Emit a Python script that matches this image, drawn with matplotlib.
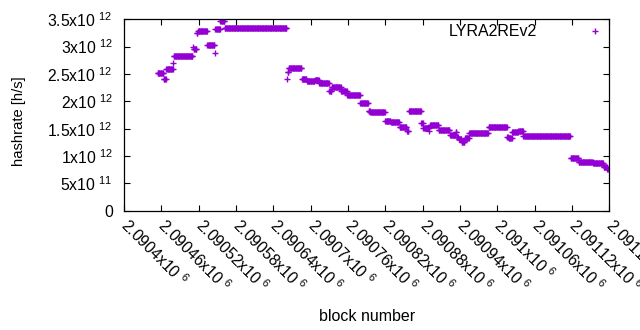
import numpy as np
import matplotlib
matplotlib.use("Agg")
import matplotlib.pyplot as plt
from matplotlib.ticker import FuncFormatter

plt.rcParams['font.family'] = ['Liberation Sans', 'DejaVu Sans']
plt.rcParams['mathtext.fontset'] = 'custom'
plt.rcParams['mathtext.rm'] = 'Liberation Sans'

# hashrate runs: first block offset, end offset (exclusive), rate in 1e12 h/s
block_base = 2090400
seg_start = [54, 64, 68, 79, 80, 111, 112, 117, 119, 134, 146, 147, 155, 162,
             262, 263, 265, 286, 294, 307, 314, 330, 334, 349, 359, 380, 393,
             396, 420, 429, 443, 455, 458, 478, 481, 491, 492, 506, 524, 533,
             535, 538, 543, 548, 555, 586, 616, 618, 624, 634, 642, 718, 731,
             754, 771, 777]
seg_end = [64, 68, 79, 80, 111, 112, 117, 119, 134, 146, 147, 155, 162, 262,
           263, 265, 286, 294, 307, 314, 330, 334, 349, 359, 380, 393, 396,
           420, 429, 443, 455, 458, 478, 481, 491, 492, 506, 524, 533, 535,
           538, 543, 548, 555, 586, 616, 618, 624, 634, 642, 718, 731, 754,
           771, 777, 779]
seg_rate = [2.52, 2.40, 2.60, 2.70, 2.83, 3.00, 2.95, 3.25, 3.29, 3.03, 2.88,
            3.33, 3.46, 3.335, 2.41, 2.53, 2.615, 2.40, 2.366, 2.385, 2.33,
            2.18, 2.27, 2.18, 2.116, 1.964, 1.83, 1.80, 1.646, 1.63, 1.536,
            1.457, 1.83, 1.61, 1.506, 1.46, 1.567, 1.47, 1.384, 1.44, 1.35,
            1.311, 1.26, 1.33, 1.42, 1.525, 1.35, 1.335, 1.44, 1.46, 1.375,
            0.955, 0.896, 0.867, 0.805, 0.768]

blocks = []
rates = []
for s, e, r in zip(seg_start, seg_end, seg_rate):
    for b in range(s, e):
        blocks.append(block_base + b)
        rates.append(r * 1e12)

fig = plt.figure(figsize=(6.4, 3.3), dpi=100)
ax = fig.add_axes([124 / 640, 1 - 210.7 / 330, (609.3 - 124) / 640, (210.7 - 19.3) / 330])

ax.plot(blocks, rates, '+', color='#9400d3', markersize=5, markeredgewidth=1.0,
        label='LYRA2REv2')

ax.set_xlim(2090400, 2091180)
ax.set_ylim(0, 3.5e12)
ax.set_xticks(np.arange(2090400, 2091181, 60))
ax.set_yticks(np.arange(0, 3.51e12, 0.5e12))


def sci(v, pos=None):
    if v == 0:
        return '0'
    e = int(np.floor(np.log10(abs(v)) + 1e-9))
    m = v / 10 ** e
    return '%gx10 $^{\\mathregular{%d}}$' % (round(m, 6), e)


ax.xaxis.set_major_formatter(FuncFormatter(sci))
ax.yaxis.set_major_formatter(FuncFormatter(sci))

ax.tick_params(direction='in', length=4, width=0.8, top=True, right=True,
               labelsize=11.3, colors='black')
ax.tick_params(axis='y', pad=8)
ax.tick_params(axis='x', pad=8.5)
for lab in ax.get_xticklabels():
    lab.set_rotation(-45)
    lab.set_ha('left')
    lab.set_va('center')
    lab.set_rotation_mode('anchor')

for sp in ax.spines.values():
    sp.set_linewidth(0.9)

ax.set_xlabel('block number', fontsize=11.5, labelpad=0)
ax.xaxis.set_label_coords(0.5, -0.514)
ax.set_ylabel('hashrate [h/s]', fontsize=10.6)
ax.yaxis.set_label_coords(-0.202, 0.47)

ax.legend(loc='center right', bbox_to_anchor=(619 / 640, 1 - 32 / 330),
          bbox_transform=fig.transFigure, frameon=False, markerfirst=False,
          handlelength=3, handletextpad=2.15, borderpad=0, borderaxespad=0,
          fontsize=11.5)

fig.savefig('out.png', dpi=100)
